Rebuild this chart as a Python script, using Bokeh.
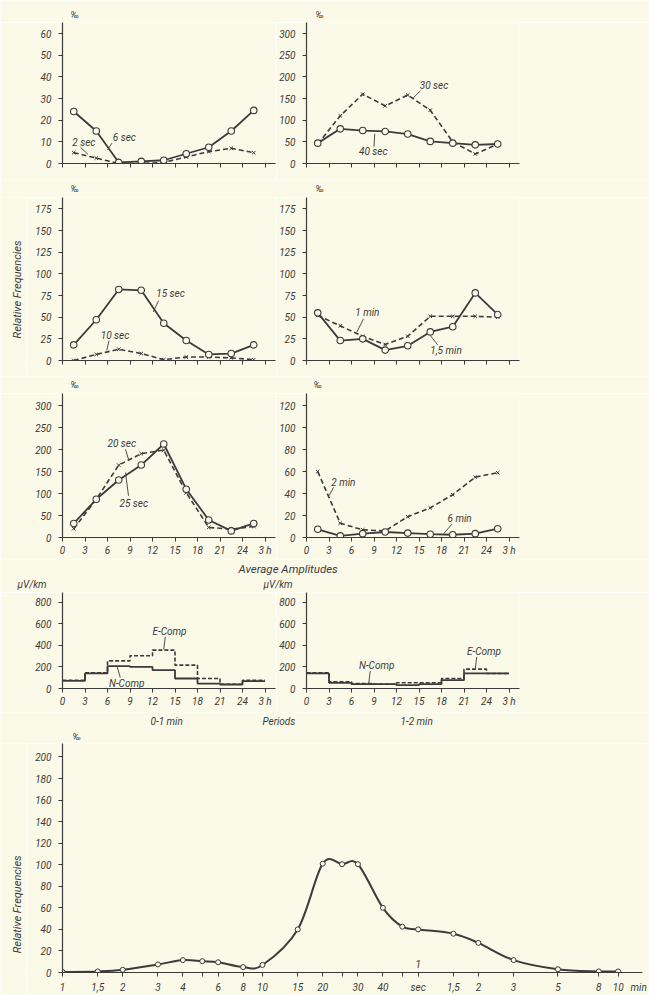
import math
from bokeh.plotting import figure
from bokeh.layouts import column, row
from bokeh.models import FixedTicker, Label
from bokeh.embed import file_html
from bokeh.resources import INLINE

BG = "#fbf9e8"
INK = "#3b3b3b"
FONT = "Roboto"

# ---------------- data ----------------
hours = [1.5, 4.5, 7.5, 10.5, 13.5, 16.5, 19.5, 22.5, 25.5]
hour_edges = [0, 3, 6, 9, 12, 15, 18, 21, 24, 27]
hour_ticks = [0, 3, 6, 9, 12, 15, 18, 21, 24, 27]
hour_tick_labels = ["0", "3", "6", "9", "12", "15", "18", "21", "24", "3 h"]

sec6 = [24, 15, 0.5, 1, 1.5, 4.5, 7.5, 15, 24.5]
sec2 = [5, 2.5, 0, 0, 0.5, 3, 5.5, 7, 5]
sec30 = [45, 110, 160, 133, 158, 123, 50, 22, 45]
sec40 = [47, 80, 76, 74, 68, 51, 47, 43, 45]
sec15 = [18, 47, 82, 81, 43, 23, 7, 8, 18]
sec10 = [0, 7, 13, 8, 1, 4, 4, 3, 1]
min1_5 = [55, 23, 25, 12, 17, 33, 39, 78, 53]
min1 = [52, 40, 28, 18.5, 28, 51, 51, 51, 50]
sec25 = [32, 87, 131, 165, 213, 110, 40, 15, 32]
sec20 = [20, 87, 165, 191, 199, 102, 23, 19, 25]
min2 = [60, 13, 7, 6, 19, 27, 39, 55, 59]
min6 = [7.5, 1.5, 3.5, 5, 4, 3, 2.5, 3.5, 8]

n_comp_01 = [71, 140, 208, 201, 170, 93, 46, 37, 68]
e_comp_01 = [77, 146, 257, 304, 357, 217, 93, 40, 77]
n_comp_12 = [140, 53, 40, 40, 31, 40, 77, 140, 140]
e_comp_12 = [146, 62, 46, 40, 53, 53, 93, 180, 140]

period_sec = [1, 1.5, 2, 3, 4, 5, 6, 8, 10, 15, 20, 25, 30, 40, 50, 60,
              90, 120, 180, 300, 480, 600]
period_freq = [0.5, 1, 2.5, 7.5, 11.5, 10.5, 9.5, 5, 7, 40, 101, 100.5, 100.5,
               60, 42.5, 40, 36, 27.5, 11.5, 3, 1, 1]
period_label_pos = [1, 1.5, 2, 3, 4, 6, 8, 10, 15, 20, 30, 40, 60, 90, 120,
                    180, 300, 480, 600, 760]
period_labels = ["1", "1,5", "2", "3", "4", "6", "8", "10", "15", "20", "30",
                 "40", "sec", "1,5", "2", "3", "5", "8", "10", "min"]

PERMIL = "\u2030"


def style_axes(p, yticks, xticks, xlabels, ystand=7, xstand=3):
    p.grid.visible = False
    for ax in (p.xaxis[0], p.yaxis[0]):
        ax.axis_line_color = INK
        ax.axis_line_width = 1.2
        ax.major_tick_line_color = INK
        ax.major_tick_line_width = 1
        ax.major_tick_in = 0
        ax.major_tick_out = 4
        ax.minor_tick_line_color = None
        ax.major_label_text_font = FONT
        ax.major_label_text_font_style = "italic"
        ax.major_label_text_font_size = "10px"
        ax.major_label_text_color = INK
    p.yaxis.ticker = FixedTicker(ticks=yticks)
    p.yaxis.major_label_standoff = ystand
    p.xaxis.ticker = FixedTicker(ticks=xticks)
    p.xaxis.major_label_standoff = xstand
    p.xaxis.major_label_overrides = {t: l for t, l in zip(xticks, xlabels)}


def hour_panel(w, mbl, mbr, height, ymax, yticks, mb_bottom, show_x):
    p = figure(width=w, height=height, x_range=(0, 28.4), y_range=(0, ymax),
               output_backend="svg", toolbar_location=None,
               min_border_left=mbl, min_border_right=mbr,
               min_border_top=0, min_border_bottom=mb_bottom,
               background_fill_color=BG, border_fill_color=BG,
               outline_line_color=None)
    labels = hour_tick_labels if show_x else [""] * len(hour_ticks)
    style_axes(p, yticks, hour_ticks, labels)
    return p


def txt(p, text, x, y, size="10px", align="left", angle=0.0):
    p.add_layout(Label(x=x, y=y, text=text, text_font=FONT,
                       text_font_style="italic", text_font_size=size,
                       text_color=INK, text_baseline="middle",
                       text_align=align, angle=angle))


def leaders(p, segs):
    p.segment(x0=[s[0] for s in segs], y0=[s[1] for s in segs],
              x1=[s[2] for s in segs], y1=[s[3] for s in segs],
              line_color=INK, line_width=0.9)


def solid_series(p, xs, ys, size=6.5):
    p.line(xs, ys, line_color=INK, line_width=1.8)
    p.scatter(xs, ys, marker="circle", size=size, fill_color=BG,
              line_color=INK, line_width=1.1)


def dashed_series(p, xs, ys):
    p.line(xs, ys, line_color=INK, line_width=1.6, line_dash="5 3")
    p.scatter(xs, ys, marker="x", size=5, line_color=INK, line_width=1.0)


def step_xy(edges, vals):
    xs, ys = [], []
    for i, v in enumerate(vals):
        xs += [edges[i], edges[i + 1]]
        ys += [v, v]
    return xs, ys


def strip(width, height):
    s = figure(width=width, height=height, x_range=(0, width),
               y_range=(0, height), output_backend="svg",
               toolbar_location=None, x_axis_location=None,
               y_axis_location=None, min_border=0,
               background_fill_color=BG, border_fill_color=BG,
               outline_line_color=None)
    s.grid.visible = False
    return s


# ---------------- strip above row 1 ----------------
s0 = strip(649, 22)
txt(s0, PERMIL, 70, 8, size="9px")
txt(s0, PERMIL, 315, 8, size="9px")

# ---------------- row 1 ----------------
p1 = hour_panel(276, 62, 1, 158, 65.08, [0, 10, 20, 30, 40, 50, 60], 17, False)
dashed_series(p1, hours, sec2)
solid_series(p1, hours, sec6)
txt(p1, "6 sec", 6.7, 12)
txt(p1, "2 sec", 1.3, 9.8)
leaders(p1, [(6.6, 9.4, 6.0, 6.3), (2.4, 7.5, 3.4, 4.2)])

p2 = hour_panel(373, 30, 130, 158, 325.4, [0, 50, 100, 150, 200, 250, 300], 17, False)
dashed_series(p2, hours, sec30)
solid_series(p2, hours, sec40)
txt(p2, "30 sec", 15.1, 180)
txt(p2, "40 sec", 7.0, 28)
leaders(p2, [(15.2, 168, 14.1, 149), (9.0, 39, 9.1, 68.5)])

s1 = strip(649, 17)
txt(s1, PERMIL, 70, 8.5, size="9px")
txt(s1, PERMIL, 315, 8.5, size="9px")

# ---------------- row 2 ----------------
y175 = [0, 25, 50, 75, 100, 125, 150, 175]
v2 = strip(26, 179)
txt(v2, "Relative Frequencies", 17, 78, size="11px", align="center",
    angle=math.pi / 2)
p3 = hour_panel(250, 36, 1, 179, 188.1, y175, 16, False)
dashed_series(p3, hours, sec10)
solid_series(p3, hours, sec15)
txt(p3, "15 sec", 12.5, 77.7)
txt(p3, "10 sec", 5.1, 28.8)
leaders(p3, [(12.8, 69, 12.1, 56), (6.2, 23, 5.9, 11.5)])

p4 = hour_panel(373, 30, 130, 179, 188.1, y175, 16, False)
dashed_series(p4, hours, min1)
solid_series(p4, hours, min1_5)
txt(p4, "1 min", 6.5, 55.7)
txt(p4, "1,5 min", 16.5, 11.5)
leaders(p4, [(7.6, 48, 6.7, 32.7), (17.5, 18, 16.5, 28.8)])

s2 = strip(649, 17)
txt(s2, PERMIL, 70, 8.5, size="9px")
txt(s2, PERMIL, 313, 8.5, size="9px")

# ---------------- row 3 ----------------
p5 = hour_panel(276, 62, 1, 166, 328, [0, 50, 100, 150, 200, 250, 300], 22, True)
dashed_series(p5, hours, sec20)
solid_series(p5, hours, sec25)
txt(p5, "20 sec", 6.0, 214)
txt(p5, "25 sec", 7.6, 77)
leaders(p5, [(8.4, 201, 8.8, 178), (8.8, 95, 8.4, 148)])

p6 = hour_panel(373, 30, 130, 166, 131.2, [0, 20, 40, 60, 80, 100, 120], 22, True)
dashed_series(p6, hours, min2)
solid_series(p6, hours, min6)
txt(p6, "2 min", 3.3, 50)
txt(p6, "6 min", 18.8, 17.7)
leaders(p6, [(3.6, 45.6, 3.0, 38), (19.4, 12.2, 18.3, 3.6)])

sA = strip(649, 33)
txt(sA, "Average Amplitudes", 238, 24, size="11.5px")
txt(sA, "\u00b5V/km", 17, 8.5)
txt(sA, "\u00b5V/km", 263, 8.5)

# ---------------- row 4 ----------------
y800 = [0, 200, 400, 600, 800]
p7 = hour_panel(276, 62, 1, 120, 893, y800, 24, True)
ex, ey = step_xy(hour_edges, e_comp_01)
nx, ny = step_xy(hour_edges, n_comp_01)
p7.line(ex, ey, line_color=INK, line_width=1.6, line_dash="4 2")
p7.line(nx, ny, line_color=INK, line_width=1.8)
txt(p7, "E-Comp", 12.0, 526)
txt(p7, "N-Comp", 6.2, 46)
leaders(p7, [(13.7, 480, 13.5, 363), (7.7, 102, 7.3, 201)])

p8 = hour_panel(373, 30, 130, 120, 893, y800, 24, True)
ex, ey = step_xy(hour_edges, e_comp_12)
nx, ny = step_xy(hour_edges, n_comp_12)
p8.line(ex, ey, line_color=INK, line_width=1.6, line_dash="4 2")
p8.line(nx, ny, line_color=INK, line_width=1.8)
txt(p8, "E-Comp", 21.4, 340)
txt(p8, "N-Comp", 7.0, 217)
leaders(p8, [(22.7, 294, 22.5, 186), (8.5, 164, 8.3, 52)])

sB = strip(649, 31)
txt(sB, "0-1 min", 150, 22)
txt(sB, "Periods", 262, 22)
txt(sB, "1-2 min", 400, 22)
txt(sB, PERMIL, 72, 7, size="9px")

# ---------------- row 5 (period distribution) ----------------
v5 = strip(26, 252)
txt(v5, "Relative Frequencies", 17, 75, size="11px", align="center",
    angle=math.pi / 2)
p9 = figure(width=623, height=252, x_axis_type="log", x_range=(1, 794),
            y_range=(0, 212.5), output_backend="svg", toolbar_location=None,
            min_border_left=36, min_border_right=7, min_border_top=0,
            min_border_bottom=19, background_fill_color=BG,
            border_fill_color=BG, outline_line_color=None)
style_axes(p9, list(range(0, 201, 20)), period_label_pos, period_labels,
           xstand=5)
p9.xaxis.ticker = FixedTicker(ticks=period_label_pos, minor_ticks=period_sec)
p9.xaxis.major_tick_line_color = None
p9.xaxis.major_tick_out = 0
p9.xaxis.minor_tick_line_color = INK
p9.xaxis.minor_tick_in = 0
p9.xaxis.minor_tick_out = 4

# smooth (Catmull-Rom) curve through the read points, in log-x space
lx = [math.log10(s) for s in period_sec]
n = len(period_sec)
bx0, by0, bx1, by1, bcx0, bcy0, bcx1, bcy1 = [], [], [], [], [], [], [], []
for i in range(n - 1):
    pm = max(i - 1, 0)
    pn = min(i + 2, n - 1)
    bx0.append(period_sec[i]); by0.append(period_freq[i])
    bx1.append(period_sec[i + 1]); by1.append(period_freq[i + 1])
    bcx0.append(10 ** (lx[i] + (lx[i + 1] - lx[pm]) / 6))
    bcy0.append(period_freq[i] + (period_freq[i + 1] - period_freq[pm]) / 6)
    bcx1.append(10 ** (lx[i + 1] - (lx[pn] - lx[i]) / 6))
    bcy1.append(period_freq[i + 1] - (period_freq[pn] - period_freq[i]) / 6)
p9.bezier(x0=bx0, y0=by0, x1=bx1, y1=by1, cx0=bcx0, cy0=bcy0, cx1=bcx1,
          cy1=bcy1, line_color=INK, line_width=2.0)
p9.scatter(period_sec, period_freq, marker="circle", size=5, fill_color=BG,
           line_color=INK, line_width=1.0)
txt(p9, "1", 60, 7.6, align="center")

layout = column(s0, row(p1, p2), s1, row(v2, p3, p4), s2, row(p5, p6), sA,
                row(p7, p8), sB, row(v5, p9))

open("out.html", "w").write(file_html(layout, INLINE))
